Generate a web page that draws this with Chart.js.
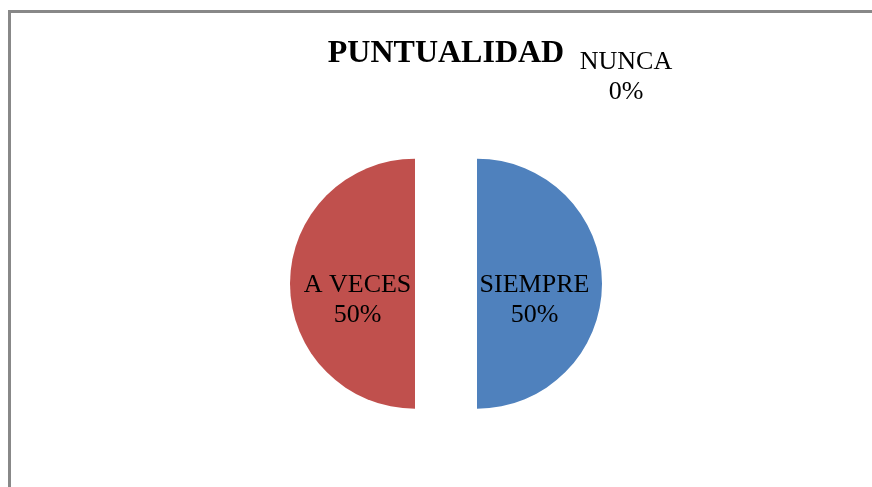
<!DOCTYPE html>
<html lang="es">
<head>
    <meta charset="UTF-8">
    <title>Puntualidad</title>
    <script src="https://cdn.jsdelivr.net/npm/chart.js"></script>
    <style>
        body {
            margin: 0;
            width: 872px;
            height: 487px;
            overflow: hidden;
            background: #fff;
            position: relative;
        }

        /* chart frame, only left and top edges are visible in the crop */
        .frame {
            position: absolute;
            left: 8px;
            top: 10px;
            width: 900px;
            height: 500px;
            border-left: 3px solid #888;
            border-top: 3px solid #888;
        }

        #pie-chart {
            position: absolute;
            left: 0;
            top: 0;
        }
    </style>
</head>
<body>
    <div class="frame"></div>
    <canvas id="pie-chart" width="872" height="487"></canvas>

    <script>
        const chartTitle = 'PUNTUALIDAD';
        const categories = ['SIEMPRE', 'A VECES', 'NUNCA'];
        const percentages = [50, 50, 0];
        const sliceColors = ['#4F81BD', '#C0504D', '#9BBB59'];

        const serif = "'Liberation Serif', 'Times New Roman', serif";
        const explode = 31; // how far each slice is pulled out, px

        // Chart.js offset shrinks the slice angles, so push the slices out by hand
        const explodedSlices = {
            id: 'explodedSlices',
            beforeDatasetDraw(chart, args) {
                const ctx = chart.ctx;
                args.meta.data.forEach(arc => {
                    if (arc.circumference === 0) return;
                    const mid = (arc.startAngle + arc.endAngle) / 2;
                    ctx.save();
                    ctx.translate(Math.cos(mid) * explode, Math.sin(mid) * explode);
                    arc.draw(ctx);
                    ctx.restore();
                });
                return false;
            }
        };

        // Draws "CATEGORY / nn%" inside each slice, like the Excel data labels
        const sliceLabels = {
            id: 'sliceLabels',
            afterDatasetsDraw(chart) {
                const ctx = chart.ctx;
                const meta = chart.getDatasetMeta(0);
                ctx.save();
                ctx.font = '26px ' + serif;
                ctx.fillStyle = '#000';
                ctx.textAlign = 'center';
                ctx.textBaseline = 'middle';
                meta.data.forEach((arc, i) => {
                    let x, y;
                    if (percentages[i] === 0) {
                        // empty slice: label sits outside, upper right of the pie
                        x = arc.x + 180;
                        y = arc.y - arc.outerRadius - 82;
                    } else {
                        const mid = (arc.startAngle + arc.endAngle) / 2;
                        const dist = explode + arc.outerRadius * 0.46;
                        x = arc.x + Math.cos(mid) * dist;
                        y = arc.y + Math.sin(mid) * dist + 16;
                    }
                    ctx.fillText(categories[i], x, y - 15);
                    ctx.fillText(percentages[i] + '%', x, y + 15);
                });
                ctx.restore();
            }
        };

        const ctx = document.getElementById('pie-chart').getContext('2d');
        new Chart(ctx, {
            type: 'pie',
            data: {
                labels: categories,
                datasets: [{
                    data: percentages,
                    backgroundColor: sliceColors,
                    borderWidth: 0,
                    radius: 125
                }]
            },
            options: {
                responsive: false,
                animation: false,
                events: [],
                layout: {
                    padding: { left: 20, right: 0, top: 0, bottom: 2 }
                },
                plugins: {
                    legend: { display: false },
                    tooltip: { enabled: false },
                    title: {
                        display: true,
                        text: chartTitle,
                        color: '#000',
                        font: { family: serif, size: 32, weight: 'bold' },
                        padding: { top: 35, bottom: 9 }
                    }
                }
            },
            plugins: [explodedSlices, sliceLabels]
        });
    </script>
</body>
</html>
